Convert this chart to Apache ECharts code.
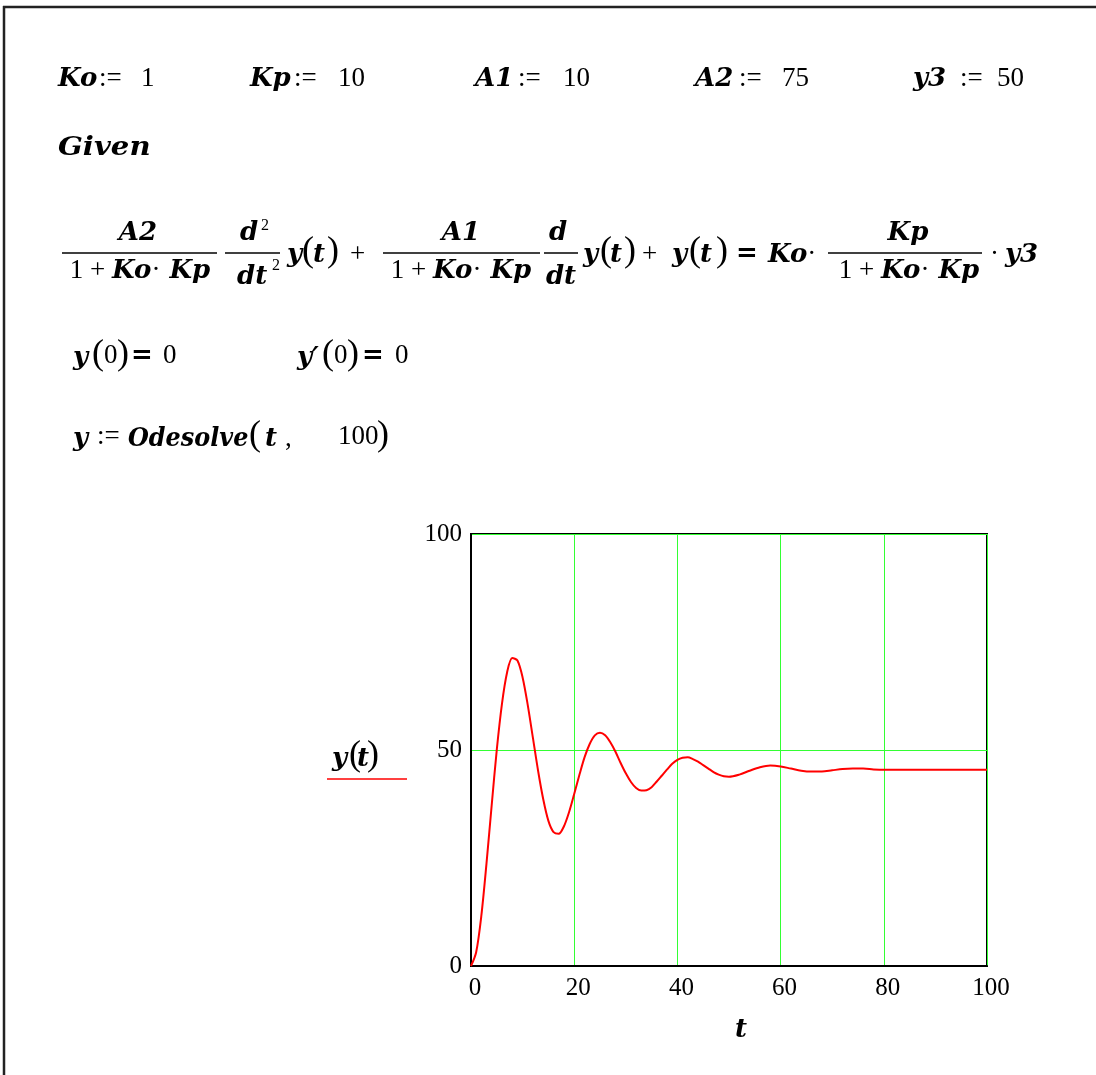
<!DOCTYPE html>
<html>
<head>
<meta charset="utf-8">
<title>Odesolve — y(t)</title>
<script src="https://cdn.jsdelivr.net/npm/echarts@6/dist/echarts.min.js"></script>
<style>
  html, body { margin: 0; padding: 0; background: #fff; }
  #chart { width: 1096px; height: 1075px; }
</style>
</head>
<body>
<div id="chart"></div>
<script>
// Solution of the second-order ODE, sampled in t
const tValues = [
  0, 1, 2, 3, 4, 5, 6, 7, 8, 9, 10, 11, 12, 13, 14, 15, 16, 17, 18, 19, 20,
  21, 22, 23, 24, 25, 26, 27, 28, 29, 30, 31, 32, 33, 34, 35, 36, 37, 38, 39, 40,
  41, 42, 43, 44, 45, 46, 47, 48, 49, 50,
  52, 54, 56, 58, 60, 62, 64, 66, 68, 70, 72, 74, 76, 78, 80,
  82, 84, 86, 88, 90, 92, 94, 96, 98, 100
];
const yValues = [
  0, 3.2, 11.6, 23.7, 37.1, 50.1, 60.7, 68.0, 71.3, 70.7, 66.8,
  60.4, 52.8, 45.2, 38.6, 33.6, 31.0, 30.6, 32.3, 35.6, 39.8,
  44.2, 48.3, 51.4, 53.4, 54.0, 53.4, 51.8, 49.6, 47.0, 44.6,
  42.6, 41.2, 40.6, 40.7, 41.4, 42.7, 44.1, 45.5, 46.8, 47.7,
  48.2, 48.3, 47.9, 47.3, 46.5, 45.7, 44.9, 44.3, 43.9, 43.8,
  44.3, 45.2, 46.0, 46.4, 46.2, 45.7, 45.2, 45.0, 45.0, 45.3,
  45.6, 45.7, 45.7, 45.5, 45.4,
  45.4, 45.4, 45.4, 45.4, 45.4, 45.4, 45.4, 45.4, 45.4, 45.4
];
const xTicks = [0, 20, 40, 60, 80, 100];
const yTicks = [0, 50, 100];
const seriesName = 'y(t)';

const curve = tValues.map((t, i) => [t, yValues[i]]);

// fonts of the worksheet
const V = 'italic bold 26px "DejaVu Serif"';      // variables
const N = '27px "Liberation Serif"';              // numbers / operators
const P = '36px "Liberation Serif"';              // parentheses
const S = '16px "Liberation Serif"';              // superscripts
const EQ = 'bold 26px "DejaVu Sans"';             // bold equals

const RICH = {
  v: { fontFamily: 'DejaVu Serif', fontWeight: 'bold', fontStyle: 'italic', fontSize: 26, fill: '#000' },
  n: { fontFamily: 'Liberation Serif', fontSize: 27, fill: '#000' }
};

function txt(x, y, text, font, align, sx) {
  return {
    type: 'text', x: x, y: y, silent: true, scaleX: sx || 1,
    style: {
      text: text, font: font, fill: '#000',
      textAlign: align || 'left', textVerticalAlign: 'middle', verticalAlign: 'middle'
    }
  };
}
function rich(x, y, text, align) {
  return {
    type: 'text', x: x, y: y, silent: true,
    style: {
      text: text, font: N, fill: '#000', rich: RICH,
      textAlign: align || 'left', textVerticalAlign: 'middle', verticalAlign: 'middle'
    }
  };
}
function hline(x1, x2, y, w, color) {
  return {
    type: 'line', silent: true,
    shape: { x1: x1, y1: y, x2: x2, y2: y },
    style: { stroke: color || '#000', lineWidth: w || 1.5 }
  };
}
function vline(x, y1, y2, w, color) {
  return {
    type: 'line', silent: true,
    shape: { x1: x, y1: y1, x2: x, y2: y2 },
    style: { stroke: color || '#000', lineWidth: w || 1.5 }
  };
}
// y(t) with tall parentheses
function yOfT(x, y, dx) {
  return [
    txt(x, y + 2, 'y', V),
    txt(x + dx[0], y - 1, '(', P),
    txt(x + dx[1], y + 2, 't', V),
    txt(x + dx[2], y - 1, ')', P)
  ];
}

const DEN = '{n|1 + }{v|Ko}{n|·}{v| Kp}';
const MAIN = 253, NUM = 233, DENY = 271;

const els = [];
// worksheet frame
els.push(hline(3, 1096, 7, 2.5, '#222'));
els.push(vline(4, 6, 1075, 2.5, '#222'));

// constants
const ROW1 = 79;
els.push(txt(58, ROW1, 'Ko', V), txt(99, ROW1, ':=', N), txt(141, ROW1, '1', N));
els.push(txt(250, ROW1, 'Kp', V), txt(294, ROW1, ':=', N), txt(338, ROW1, '10', N));
els.push(txt(475, ROW1, 'A1', V), txt(518, ROW1, ':=', N), txt(563, ROW1, '10', N));
els.push(txt(695, ROW1, 'A2', V), txt(739, ROW1, ':=', N), txt(782, ROW1, '75', N));
els.push(txt(913, ROW1, 'y3', V), txt(960, ROW1, ':=', N), txt(997, ROW1, '50', N));
els.push(txt(58, 148, 'Given', V, 'left', 1.12));

// differential equation
els.push(hline(62, 217, MAIN), txt(138, NUM, 'A2', V, 'center'), rich(140, DENY, DEN, 'center'));
els.push(hline(225, 280, MAIN), txt(240, NUM, 'd', V), txt(261, 226, '2', S),
         txt(237, 277, 'dt', V), txt(272, 266, '2', S));
els.push(...yOfT(287, MAIN, [15, 26, 40]));
els.push(txt(350, MAIN + 2, '+', N));
els.push(hline(383, 540, MAIN), txt(461, NUM, 'A1', V, 'center'), rich(461, DENY, DEN, 'center'));
els.push(hline(544, 578, MAIN), txt(558, NUM, 'd', V, 'center'), txt(561, 277, 'dt', V, 'center'));
els.push(...yOfT(583, MAIN, [17, 27, 41]));
els.push(txt(642, MAIN + 2, '+', N));
els.push(...yOfT(672, MAIN, [17, 28, 44]));
els.push(txt(736, MAIN + 1, '=', EQ));
els.push(rich(768, MAIN + 2, '{v|Ko}{n|·}'));
els.push(hline(828, 982, MAIN), txt(908, NUM, 'Kp', V, 'center'), rich(909, DENY, DEN, 'center'));
els.push(txt(990, MAIN + 2, '·', N), txt(1005, MAIN + 2, 'y3', V));

// initial conditions
const ROW3 = 356;
els.push(txt(73, ROW3 + 2, 'y', V), txt(92, ROW3 - 1, '(', P), txt(104, ROW3, '0', N), txt(117, ROW3 - 1, ')', P));
els.push(txt(131, ROW3, '=', EQ), txt(163, ROW3, '0', N));
els.push(txt(297, ROW3 + 2, 'y′', V), txt(322, ROW3 - 1, '(', P), txt(334, ROW3, '0', N), txt(347, ROW3 - 1, ')', P));
els.push(txt(362, ROW3, '=', EQ), txt(395, ROW3, '0', N));

// solver call
const ROW4 = 437;
els.push(txt(73, ROW4 + 2, 'y', V), txt(97, ROW4, ':=', N), txt(128, ROW4 + 2, 'Odesolve', V, 'left', 0.92),
         txt(249, ROW4 - 1, '(', P), txt(265, ROW4 + 2, 't', V), txt(285, ROW4 + 2, ',', N),
         txt(338, ROW4, '100', N), txt(377, ROW4 - 1, ')', P));

// trace label on the left of the plot
els.push(txt(332, 759, 'y', V), txt(349, 756, '(', P), txt(357, 759, 't', V), txt(367, 756, ')', P));
els.push(hline(327, 407, 779, 1.5, '#ff0000'));
// abscissa name
els.push(txt(741, 1030, 't', V, 'center'));

const chart = echarts.init(document.getElementById('chart'), null, { renderer: 'canvas' });
chart.setOption({
  animation: false,
  backgroundColor: '#fff',
  grid: {
    left: 471, top: 534, width: 516, height: 432,
    show: true, borderColor: '#000', borderWidth: 2, backgroundColor: 'transparent'
  },
  xAxis: {
    type: 'value',
    min: xTicks[0], max: xTicks[xTicks.length - 1], interval: xTicks[1] - xTicks[0],
    axisLine: { show: true, onZero: false, lineStyle: { color: '#000', width: 2 } },
    axisTick: { show: false },
    splitLine: { show: true, lineStyle: { color: '#33ff33', width: 1 } },
    axisLabel: {
      color: '#000', fontFamily: 'Liberation Serif', fontSize: 25, margin: 10,
      padding: [0, 0, 0, 8]
    }
  },
  yAxis: {
    type: 'value',
    min: yTicks[0], max: yTicks[yTicks.length - 1], interval: yTicks[1] - yTicks[0],
    axisLine: { show: true, onZero: false, lineStyle: { color: '#000', width: 2 } },
    axisTick: { show: false },
    splitLine: { show: true, lineStyle: { color: '#33ff33', width: 1 } },
    axisLabel: {
      color: '#000', fontFamily: 'Liberation Serif', fontSize: 25, margin: 9,
      padding: [6, 0, 0, 0]
    }
  },
  series: [{
    type: 'line',
    name: seriesName,
    data: curve,
    showSymbol: false,
    smooth: 0.3,
    lineStyle: { color: '#ff0000', width: 2 },
    z: 3
  }],
  graphic: { elements: els }
});
</script>
</body>
</html>
